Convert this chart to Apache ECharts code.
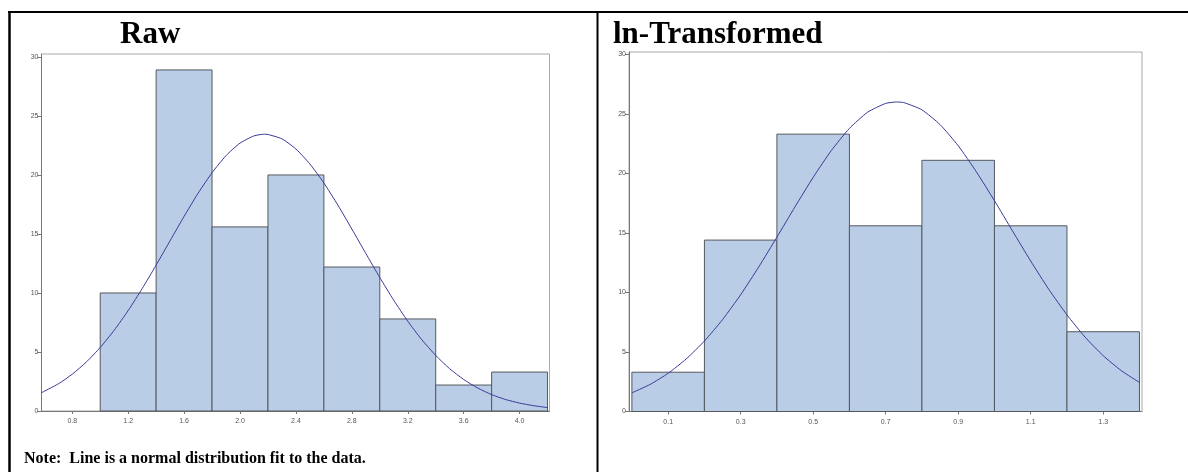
<!DOCTYPE html>
<html>
<head>
<meta charset="utf-8">
<script src="https://cdn.jsdelivr.net/npm/echarts@6/dist/echarts.min.js"></script>
<style>
html,body{margin:0;padding:0;background:#fff;}
#c{width:1188px;height:472px;}
</style>
</head>
<body>
<div id="c"></div>
<script>
// ---- data ----
const rawEdges = [1.0, 1.4, 1.8, 2.2, 2.6, 3.0, 3.4, 3.8, 4.2];
const rawPercent = [10.0, 28.9, 15.6, 20.0, 12.2, 7.8, 2.2, 3.3];
const rawTicks = [0.8, 1.2, 1.6, 2.0, 2.4, 2.8, 3.2, 3.6, 4.0];
const rawFitX = [0.58, 0.7, 0.8, 0.9, 1.0, 1.1, 1.2, 1.3, 1.4, 1.5, 1.6, 1.7, 1.8, 1.9, 2.0, 2.1, 2.17, 2.2, 2.3, 2.4, 2.5, 2.6, 2.7, 2.8, 2.9, 3.0, 3.1, 3.2, 3.3, 3.4, 3.5, 3.6, 3.7, 3.8, 3.9, 4.0, 4.1, 4.2];
const rawFitY = [1.55, 2.30, 3.12, 4.14, 5.38, 6.84, 8.51, 10.37, 12.36, 14.43, 16.49, 18.45, 20.19, 21.64, 22.70, 23.31, 23.45, 23.43, 23.06, 22.20, 20.93, 19.32, 17.45, 15.42, 13.35, 11.31, 9.38, 7.61, 6.05, 4.71, 3.58, 2.67, 1.95, 1.39, 0.97, 0.67, 0.45, 0.29];

const lnEdges = [0.0, 0.2, 0.4, 0.6, 0.8, 1.0, 1.2, 1.4];
const lnPercent = [3.3, 14.4, 23.3, 15.6, 21.1, 15.6, 6.7];
const lnTicks = [0.1, 0.3, 0.5, 0.7, 0.9, 1.1, 1.3];
const lnFitX = [0.0, 0.05, 0.1, 0.15, 0.2, 0.25, 0.3, 0.35, 0.4, 0.45, 0.5, 0.55, 0.6, 0.65, 0.7, 0.73, 0.75, 0.8, 0.85, 0.9, 0.95, 1.0, 1.05, 1.1, 1.15, 1.2, 1.25, 1.3, 1.35, 1.4];
const lnFitY = [1.57, 2.27, 3.21, 4.42, 5.92, 7.72, 9.81, 12.15, 14.65, 17.20, 19.67, 21.92, 23.78, 25.14, 25.88, 26.00, 25.95, 25.34, 24.10, 22.33, 20.14, 17.71, 15.16, 12.64, 10.26, 8.12, 6.25, 4.69, 3.43, 2.44];

const yTicks = [0, 5, 10, 15, 20, 25, 30];
const titles = ['Raw', 'ln-Transformed'];
const noteText = 'Note:  Line is a normal distribution fit to the data.';

// ---- build ----
function bins(edges, vals) {
  return vals.map((v, i) => [edges[i], edges[i + 1], v]);
}
function pairs(xs, ys) { return xs.map((x, i) => [x, ys[i]]); }

const barFill = '#b9cde6';
const barEdge = '#55585e';
const curveColor = '#3a3a98';
const labelStyle = { fontSize: 7, color: '#555', fontFamily: 'Liberation Sans, Arial, sans-serif' };

function xAxis(gi, min, max, ticks) {
  return {
    type: 'value', gridIndex: gi, min: min, max: max,
    axisLine: { show: true, onZero: false, lineStyle: { color: '#777', width: 1 } },
    axisTick: { show: true, customValues: ticks, length: 3, lineStyle: { color: '#777' } },
    axisLabel: Object.assign({ customValues: ticks, margin: 7, formatter: v => v.toFixed(1) }, labelStyle),
    splitLine: { show: false }
  };
}
function yAxis(gi, max) {
  return {
    type: 'value', gridIndex: gi, min: 0, max: max,
    axisLine: { show: true, onZero: false, lineStyle: { color: '#777', width: 1 } },
    axisTick: { show: true, customValues: yTicks, length: 4, lineStyle: { color: '#777' } },
    axisLabel: Object.assign({ customValues: yTicks, margin: 3 }, labelStyle),
    splitLine: { show: false }
  };
}
function histSeries(gi, data) {
  return {
    type: 'custom', xAxisIndex: gi, yAxisIndex: gi,
    encode: { x: [0, 1], y: 2 },
    data: data,
    renderItem: function (params, api) {
      const p0 = api.coord([api.value(0), api.value(2)]);
      const p1 = api.coord([api.value(1), 0]);
      return {
        type: 'rect',
        shape: { x: p0[0], y: p0[1], width: p1[0] - p0[0], height: p1[1] - p0[1] },
        style: { fill: barFill, stroke: barEdge, lineWidth: 1 }
      };
    },
    z: 2
  };
}
function fitSeries(gi, data) {
  return {
    type: 'line', xAxisIndex: gi, yAxisIndex: gi, data: data,
    smooth: 0.2, showSymbol: false, symbol: 'none',
    lineStyle: { color: curveColor, width: 1 }, z: 3, silent: true
  };
}

const chart = echarts.init(document.getElementById('c'), null, { renderer: 'canvas' });
chart.setOption({
  animation: false,
  backgroundColor: '#fff',
  grid: [
    { left: 41.5, top: 54, width: 508, height: 357, show: true, borderColor: '#aaa', borderWidth: 1, backgroundColor: 'transparent' },
    { left: 629, top: 52, width: 513, height: 359.5, show: true, borderColor: '#aaa', borderWidth: 1, backgroundColor: 'transparent' }
  ],
  xAxis: [xAxis(0, 0.58, 4.214, rawTicks), xAxis(1, -0.008, 1.407, lnTicks)],
  yAxis: [yAxis(0, 30.25), yAxis(1, 30.2)],
  series: [
    histSeries(0, bins(rawEdges, rawPercent)),
    fitSeries(0, pairs(rawFitX, rawFitY)),
    histSeries(1, bins(lnEdges, lnPercent)),
    fitSeries(1, pairs(lnFitX, lnFitY))
  ],
  graphic: [
    { type: 'line', shape: { x1: 8, y1: 12, x2: 1188, y2: 12 }, style: { stroke: '#000', lineWidth: 2 }, z: 10 },
    { type: 'line', shape: { x1: 9.5, y1: 11, x2: 9.5, y2: 472 }, style: { stroke: '#000', lineWidth: 2.5 }, z: 10 },
    { type: 'line', shape: { x1: 597.5, y1: 11, x2: 597.5, y2: 472 }, style: { stroke: '#000', lineWidth: 2 }, z: 10 },
    { type: 'text', x: 120, y: 35, style: { text: titles[0], font: 'bold 31px "Liberation Serif", "Times New Roman", serif', fill: '#000', verticalAlign: 'middle' }, z: 10 },
    { type: 'text', x: 613, y: 35, style: { text: titles[1], font: 'bold 31px "Liberation Serif", "Times New Roman", serif', fill: '#000', verticalAlign: 'middle' }, z: 10 },
    { type: 'text', x: 24, y: 459, style: { text: noteText, font: 'bold 16px "Liberation Serif", "Times New Roman", serif', fill: '#000', verticalAlign: 'middle' }, z: 10 }
  ]
});
</script>
</body>
</html>
